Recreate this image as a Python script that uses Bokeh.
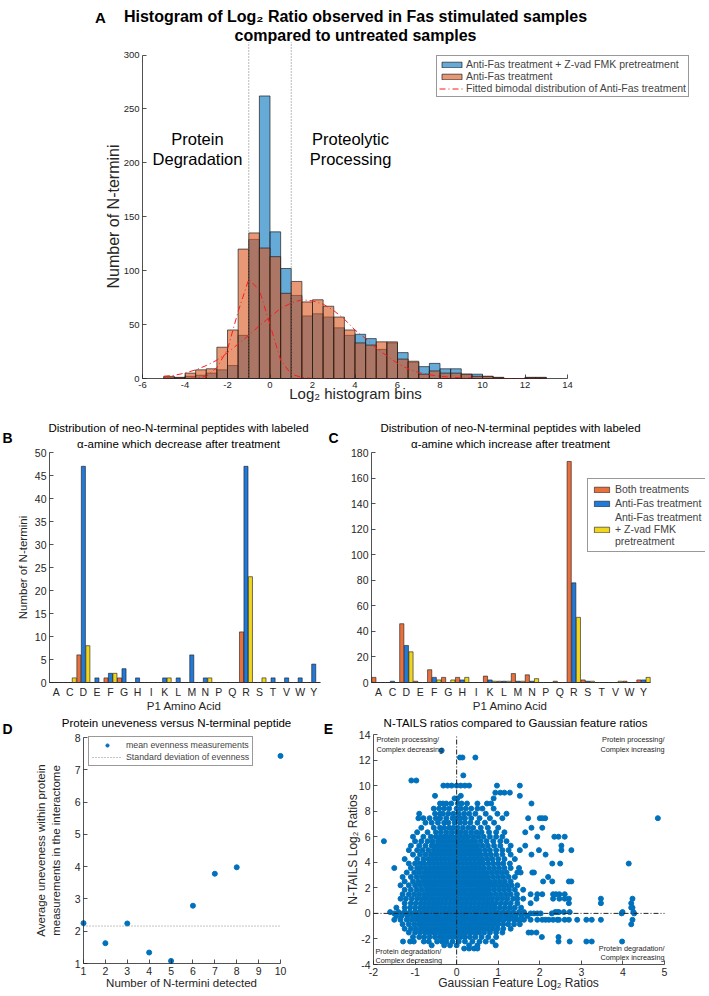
from bokeh.plotting import figure
from bokeh.layouts import column, row
from bokeh.models import Label, Legend, LegendItem, FixedTicker, Range1d
from bokeh.embed import file_html
from bokeh.resources import INLINE

FONT = "Liberation Sans"
AX = "#262626"

# ---------------- Panel A data ----------------
bin_left = [-5.0, -4.5, -4.0, -3.5, -3.0, -2.5, -2.0, -1.5, -1.0, -0.5, 0.0, 0.5, 1.0, 1.5, 2.0, 2.5, 3.0, 3.5,
            4.0, 4.5, 5.0, 5.5, 6.0, 6.5, 7.0, 7.5, 8.0, 8.5, 9.0, 9.5, 10.0, 10.5, 11.0, 11.5, 12.0, 12.5]
bin_width = 0.5
zvad_counts = [1, 1, 2, 3, 5, 8, 12, 40, 129, 262, 136, 102, 77, 58, 60, 57, 47, 40,
               41, 37, 27, 33, 24, 15, 11, 14, 9, 9, 4, 4, 2, 1, 0, 0, 1, 1]
fas_counts = [2, 1, 5, 8, 9, 29, 45, 120, 135, 121, 113, 79, 90, 71, 73, 67, 57, 45,
              33, 31, 34, 34, 18, 16, 4, 7, 5, 5, 4, 2, 2, 1, 0, 0, 1, 1]
fit_x = [-5.0, -4.5, -4.0, -3.5, -3.0, -2.5, -2.0, -1.5, -1.0, -0.5, 0.0, 0.5, 1.0, 1.5, 2.0, 2.5, 3.0, 3.5, 4.0,
         4.5, 5.0, 5.5, 6.0, 6.5, 7.0, 7.5, 8.0, 8.5, 9.0, 9.5, 10.0, 10.5, 11.0, 11.5, 12.0, 12.5, 13.0]
fit_narrow = [0, 0, 0, 0.5, 2, 10, 27, 62, 92, 82, 50, 17, 4, 1, 0, 0, 0, 0, 0,
              0, 0, 0, 0, 0, 0, 0, 0, 0, 0, 0, 0, 0, 0, 0, 0, 0, 0]
fit_broad = [2, 3, 5, 8, 12, 17, 24, 32, 40, 49, 57, 65, 70, 73, 72, 69, 63, 55, 45,
             37, 28, 21, 14, 9, 5.5, 3.5, 2, 1.2, 0.6, 0.3, 0.1, 0, 0, 0, 0, 0, 0]
thresholds = [-1, 1]

# ---------------- Panels B / C data ----------------
amino = ["A", "C", "D", "E", "F", "G", "H", "I", "K", "L", "M", "N", "P", "Q", "R", "S", "T", "V", "W", "Y"]
dec_both = [0, 0, 6, 0, 1, 1, 0, 0, 0, 0, 0, 0, 0, 0, 11, 0, 0, 0, 0, 0]
dec_fas = [0, 0, 47, 1, 2, 3, 1, 0, 1, 1, 6, 1, 0, 0, 47, 0, 1, 1, 1, 4]
dec_zvad = [0, 1, 8, 0, 2, 0, 0, 0, 1, 0, 0, 1, 0, 0, 23, 1, 0, 0, 0, 0]
inc_both = [4, 0, 46, 1, 10, 4, 4, 0, 5, 1, 7, 6, 0, 1, 173, 2, 0, 0, 1, 2]
inc_fas = [0, 1, 29, 0, 4, 0, 2, 0, 2, 1, 1, 1, 0, 0, 78, 1, 0, 0, 0, 2]
inc_zvad = [0, 0, 24, 0, 2, 2, 4, 0, 1, 1, 1, 3, 0, 0, 51, 1, 0, 1, 0, 4]

# ---------------- Panel D data ----------------
d_n = [1, 2, 3, 4, 5, 6, 7, 8, 10]
d_mean = [2.25, 1.63, 2.24, 1.34, 1.08, 2.79, 3.78, 3.98, 7.43]
d_sd = 2.16

# ---------------- Panel E data (read row by row: y, x values) ----------------
e_rows = [
    (12.75, "-0.36"),
    (12.2, "0.08 0.14 0.45"),
    (10.8, "0.16"),
    (10.4, "-1.09 -0.97"),
    (10.0, "-0.32 -0.22 -0.12 0.0 0.1 0.2 0.3 0.97 1.52"),
    (9.45, "0.93 1.05 1.15 1.28"),
    (9.2, "-0.52 0.1 1.52"),
    (9.0, "-0.05 0.02 0.89"),
    (8.6, "-0.4 -0.33 -0.25 -0.13 0.03 0.12 0.25 0.5 0.73 0.83 1.8"),
    (8.2, "-0.55 -0.42 -0.3 -0.18 0.0 0.1 0.22 0.35 0.5 0.62 0.89"),
    (7.8, "-0.9 -0.52 -0.4 -0.33 -0.2 -0.08 0.05 0.18 0.3 0.45 0.7 0.98 1.2"),
    (7.45, "-0.92 -0.8 -0.65 -0.5 -0.4 -0.25 -0.1 0.0 0.1 0.2 0.35 0.55 0.8 1.1 1.72 2.0 2.06 2.13 4.84"),
    (7.1, "-0.75 -0.6 -0.45 -0.3 -0.2 -0.05 0.08 0.2 0.33 0.5 0.68 0.9"),
    (6.7, "-0.85 -0.55 -0.4 -0.3 -0.18 -0.08 0.02 0.15 0.28 0.4 0.58 0.75 1.0 1.8 2.06"),
    (6.35, "-0.95 -0.7 -0.5 -0.38 -0.25 -0.12 0.0 0.1 0.22 0.35 0.48 0.6 0.78 0.95 1.15 1.65"),
    (6.0, "-1.05 -0.8 -0.62 -0.5 -0.4 -0.3 -0.2 -0.1 0.0 0.08 0.18 0.28 0.4 0.52 0.65 0.8 0.95 1.1 1.94 2.35 2.45 2.6"),
    (5.65, "-1.75 -1.0 -0.85 -0.7 -0.58 -0.45 -0.35 -0.25 -0.15 -0.05 0.05 0.15 0.25 0.35 0.45 0.58 0.72 0.88 1.05 1.2"),
    (5.3, "-1.1 -0.9 -0.75 -0.6 -0.5 -0.4 -0.3 -0.2 -0.1 0.0 0.1 0.2 0.3 0.4 0.5 0.62 0.75 0.9 1.05 1.3 1.65 2.52"),
    (4.95, "-1.15 -0.95 -0.82 -0.68 -0.55 -0.45 -0.35 -0.25 -0.15 -0.05 0.05 0.15 0.25 0.35 0.45 0.55 0.68 0.8 0.95 1.1 1.25 1.52 1.98 2.52 2.76"),
    (4.6, "-1.05 -0.88 -0.75 -0.62 -0.52 -0.42 -0.32 -0.22 -0.12 -0.02 0.08 0.18 0.28 0.38 0.48 0.58 0.7 0.82 0.95 1.1 1.3 1.8 2.14"),
    (4.25, "-1.25 -0.95 -0.8 -0.68 -0.58 -0.48 -0.38 -0.28 -0.18 -0.08 0.02 0.12 0.22 0.32 0.42 0.52 0.62 0.74 0.86 1.0 1.15 1.4"),
    (3.9, "-1.15 -1.0 -0.88 -0.78 -0.66 -0.56 -0.46 -0.36 -0.26 -0.16 -0.06 0.04 0.14 0.24 0.34 0.44 0.54 0.64 0.76 0.88 1.0 1.12 1.28 2.3 2.49 4.14"),
    (3.55, "-1.5 -1.1 -0.95 -0.85 -0.74 -0.64 -0.54 -0.44 -0.34 -0.24 -0.14 -0.04 0.06 0.16 0.26 0.36 0.46 0.56 0.66 0.78 0.9 1.02 1.15 1.3 1.5"),
    (3.2, "-1.2 -1.02 -0.9 -0.78 -0.68 -0.58 -0.48 -0.38 -0.28 -0.18 -0.08 0.02 0.12 0.22 0.32 0.42 0.52 0.62 0.72 0.84 0.96 1.08 1.2 1.46 1.54 1.82 1.86"),
    (2.85, "-1.3 -1.1 -0.96 -0.84 -0.74 -0.64 -0.54 -0.44 -0.34 -0.24 -0.14 -0.04 0.06 0.16 0.26 0.36 0.46 0.56 0.66 0.76 0.88 1.0 1.12 1.25 1.4 2.2"),
    (2.5, "-1.25 -1.05 -0.92 -0.8 -0.7 -0.6 -0.5 -0.4 -0.3 -0.2 -0.1 0.0 0.1 0.2 0.3 0.4 0.5 0.6 0.7 0.8 0.92 1.04 1.16 1.3 2.08 2.3 2.7 2.76"),
    (2.2, "-1.35 -1.15 -1.0 -0.88 -0.76 -0.66 -0.56 -0.46 -0.36 -0.26 -0.16 -0.06 0.04 0.14 0.24 0.34 0.44 0.54 0.64 0.74 0.84 0.96 1.08 1.2 1.32 1.46"),
    (1.85, "-1.25 -1.1 -0.96 -0.84 -0.72 -0.62 -0.52 -0.42 -0.32 -0.22 -0.12 -0.02 0.08 0.18 0.28 0.38 0.48 0.58 0.68 0.78 0.9 1.02 1.14 1.26 1.4 1.6"),
    (1.5, "-1.3 -1.15 -1.02 -0.9 -0.78 -0.68 -0.58 -0.48 -0.38 -0.28 -0.18 -0.08 0.02 0.12 0.22 0.32 0.42 0.52 0.62 0.72 0.82 0.94 1.06 1.18 1.3 1.45 1.78 1.94 2.06 2.32 2.39 2.47 2.6"),
    (1.15, "-1.35 -1.22 -1.08 -0.95 -0.84 -0.74 -0.64 -0.54 -0.44 -0.34 -0.24 -0.14 -0.04 0.06 0.16 0.26 0.36 0.46 0.56 0.66 0.76 0.86 0.98 1.1 1.22 1.36 1.46 1.6 1.92 2.32 2.47 2.6 2.7 3.47 4.23"),
    (0.8, "-1.25 -1.1 -0.98 -0.86 -0.76 -0.66 -0.56 -0.46 -0.36 -0.26 -0.16 -0.06 0.04 0.14 0.24 0.34 0.44 0.54 0.64 0.74 0.84 0.94 1.06 1.18 1.3 1.46 1.78 2.7 3.47 4.2"),
    (0.45, "-1.45 -1.25 -1.12 -1.0 -0.88 -0.78 -0.68 -0.58 -0.48 -0.38 -0.28 -0.18 -0.08 0.02 0.12 0.22 0.32 0.42 0.52 0.62 0.72 0.82 0.92 1.04 1.16 1.28 1.4 1.55 4.2 4.23"),
    (0.1, "-1.6 -1.4 -1.25 -1.12 -1.0 -0.9 -0.8 -0.7 -0.6 -0.5 -0.4 -0.3 -0.2 -0.1 0.0 0.1 0.2 0.3 0.4 0.5 0.6 0.7 0.8 0.9 1.0 1.12 1.24 1.36 1.5 1.62 2.37 2.42 2.46 2.58 2.72 3.99 4.25"),
    (0.0, "-1.5 -1.3 -1.15 1.54 1.62 1.78 1.86 1.94 2.02 2.29 3.97 4.27"),
    (-0.2, "-1.45 -1.32 -1.18 -1.05 -0.94 -0.84 -0.74 -0.64 -0.54 -0.44 -0.34 -0.24 -0.14 -0.04 0.06 0.16 0.26 0.36 0.46 0.56 0.66 0.76 0.86 0.96 1.06 1.18 1.3 1.42 1.56 1.7"),
    (-0.5, "-1.5 -1.35 -1.2 -1.08 -0.96 -0.86 -0.76 -0.66 -0.56 -0.46 -0.36 -0.26 -0.16 -0.06 0.04 0.14 0.24 0.34 0.44 0.54 0.64 0.74 0.84 0.94 1.04 1.14 1.26 1.38 1.46 1.54 1.62 1.78 1.94 2.06 2.14 2.22 2.32 2.42 2.46 2.6 2.7 2.9 3.12 3.25 3.47 4.23"),
    (-0.85, "-1.3 -1.15 -1.02 -0.9 -0.8 -0.7 -0.6 -0.5 -0.4 -0.3 -0.2 -0.1 0.0 0.1 0.2 0.3 0.4 0.5 0.6 0.7 0.8 0.9 1.0 1.12 1.24 1.38 1.52 4.2"),
    (-1.2, "-1.25 -1.1 -0.98 -0.86 -0.76 -0.66 -0.56 -0.46 -0.36 -0.26 -0.16 -0.06 0.04 0.14 0.24 0.34 0.44 0.54 0.64 0.74 0.86 0.98 1.12 1.3"),
    (-1.5, "-1.15 -1.0 -0.88 -0.76 -0.66 -0.56 -0.46 -0.36 -0.26 -0.16 -0.06 0.04 0.14 0.24 0.34 0.44 0.54 0.66 0.8 0.95 1.1 1.73 1.8 1.92"),
    (-1.85, "-1.05 -0.9 -0.78 -0.65 -0.52 -0.4 -0.3 -0.2 -0.1 0.0 0.1 0.2 0.32 0.45 0.6 0.76 0.95 2.05 2.45"),
    (-2.2, "-1.29 -1.12 -1.03 -0.79 -0.67 -0.47 -0.35 -0.25 -0.1 0.05 0.2 0.38 0.55 0.7 0.86 2.45 2.72 3.12 3.25 3.98"),
    (-2.5, "-0.6 -0.3 -0.16 0.0 0.3 0.5 0.94"),
    (-2.75, "0.18 0.3 0.42 0.5"),
]
e_x, e_y = [], []
for yy, xs in e_rows:
    for v in xs.split():
        e_x.append(float(v))
        e_y.append(yy)


class Map:
    """Linear map from page pixels to data values, given two reference points."""
    def __init__(self, pa, va, pb, vb):
        self.pa, self.va = pa, va
        self.s = (vb - va) / (pb - pa)

    def __call__(self, p):
        return self.va + (p - self.pa) * self.s


class Panel:
    def __init__(self, canvas, xmap, ymap):
        self.cx0, self.cy0, self.cx1, self.cy1 = canvas
        self.xm, self.ym = xmap, ymap
        w = self.cx1 - self.cx0
        h = self.cy1 - self.cy0
        self.p = figure(width=w, height=h,
                        x_range=Range1d(xmap(self.cx0), xmap(self.cx1)),
                        y_range=Range1d(ymap(self.cy1), ymap(self.cy0)),
                        output_backend="svg", toolbar_location=None,
                        min_border_left=0, min_border_right=0, min_border_top=0, min_border_bottom=0)
        p = self.p
        p.outline_line_color = None
        p.grid.visible = False
        p.title.visible = False
        p.background_fill_color = "white"
        p.border_fill_color = "white"

    def axes(self, xb, yb, fs):
        p = self.p
        p.xaxis.fixed_location = yb[0]
        p.yaxis.fixed_location = xb[0]
        p.xaxis.bounds = xb
        p.yaxis.bounds = yb
        for ax in p.axis:
            ax.major_tick_in = 4
            ax.major_tick_out = 0
            ax.minor_tick_line_color = None
            ax.axis_line_color = AX
            ax.major_tick_line_color = AX
            ax.axis_line_width = 0.8
            ax.major_tick_line_width = 0.8
            ax.major_label_text_font = FONT
            ax.major_label_text_font_size = fs
            ax.major_label_text_color = AX
            ax.major_label_standoff = 3

    def lab(self, px, py, text, size, bold=False, angle=0, align="center", color="black"):
        self.p.add_layout(Label(x=self.xm(px), y=self.ym(py), text=text, text_font=FONT,
                                text_font_size=f"{size}px", text_font_style="bold" if bold else "normal",
                                text_align=align, text_baseline="middle", angle=angle, angle_units="deg",
                                text_color=color))

    def loc(self, left_px, bottom_px):
        return (left_px - self.cx0, self.cy1 - bottom_px)


def hyphen(ticks):
    return {t: str(t) for t in ticks if t < 0}


# ======================= Panel A =======================
A = Panel((0, 0, 705, 418), Map(142, -6, 567, 14), Map(378, 0, 54.5, 300))
pA = A.p
A.axes((-6, 14), (0, 300), "9.5px")
ticksAx = [-6, -4, -2, 0, 2, 4, 6, 8, 10, 12, 14]
pA.xaxis.ticker = FixedTicker(ticks=ticksAx)
pA.xaxis.major_label_overrides = hyphen(ticksAx)
pA.yaxis.ticker = FixedTicker(ticks=[0, 50, 100, 150, 200, 250, 300])

rights = [b + bin_width for b in bin_left]
rb = pA.quad(left=bin_left, right=rights, bottom=0, top=zvad_counts, fill_color="#0072BD", fill_alpha=0.6,
             line_color="#1a1a1a", line_alpha=0.85, line_width=0.8)
ro = pA.quad(left=bin_left, right=rights, bottom=0, top=fas_counts, fill_color="#D95319", fill_alpha=0.6,
             line_color="#1a1a1a", line_alpha=0.85, line_width=0.8)
rf = pA.line(fit_x, fit_narrow, line_color="#FF1A1A", line_dash="6 3 1 3", line_width=1)
pA.line(fit_x, fit_broad, line_color="#FF1A1A", line_dash="6 3 1 3", line_width=1)
pA.segment(x0=thresholds, y0=[0, 0], x1=thresholds, y1=[312, 312], line_color="#777777",
           line_dash="1 2", line_width=1)

legA = Legend(items=[LegendItem(label="Anti-Fas treatment + Z-vad FMK pretreatment", renderers=[rb]),
                     LegendItem(label="Anti-Fas treatment", renderers=[ro]),
                     LegendItem(label="Fitted bimodal distribution of Anti-Fas treatment", renderers=[rf])],
              location=A.loc(436, 97), label_text_font=FONT, label_text_font_size="10.5px",
              glyph_width=25, glyph_height=7, label_height=9, spacing=0, padding=2, margin=0,
              label_standoff=2, border_line_color="#333333", border_line_width=0.8,
              background_fill_alpha=1.0)
pA.add_layout(legA)

A.lab(100, 17, "A", 15, bold=True)
A.lab(355, 16, "Histogram of Log\u2082 Ratio observed in Fas stimulated samples", 16, bold=True)
A.lab(355, 35, "compared to untreated samples", 16, bold=True)
A.lab(197, 138, "Protein", 16.5)
A.lab(197, 158, "Degradation", 16.5)
A.lab(350, 138, "Proteolytic", 16.5)
A.lab(350, 158, "Processing", 16.5)
A.lab(113, 216, "Number of N-termini", 16, angle=90, color=AX)
A.lab(355, 393, "Log\u2082 histogram bins", 15, color=AX)

# ======================= Panels B and C =======================
ORANGE = "#E8703C"
BLUE = "#2179D8"
YELLOW = "#EFD51E"
EDGE = "#1a1a1a"
pos = list(range(1, 21))
off = 0.33
bw = 0.3


def bars(p, vals_o, vals_b, vals_y):
    r1 = p.vbar(x=[q - off for q in pos], top=vals_o, width=bw, fill_color=ORANGE, line_color=EDGE, line_width=0.6)
    r2 = p.vbar(x=pos, top=vals_b, width=bw, fill_color=BLUE, line_color=EDGE, line_width=0.6)
    r3 = p.vbar(x=[q + off for q in pos], top=vals_y, width=bw, fill_color=YELLOW, line_color=EDGE, line_width=0.6)
    p.xaxis.ticker = FixedTicker(ticks=pos)
    p.xaxis.major_label_overrides = {q: a for q, a in zip(pos, amino)}
    p.xaxis.major_tick_in = 0
    return r1, r2, r3


B = Panel((0, 418, 340, 712), Map(49, 0.5, 320, 20.5), Map(682, 0, 452, 50))
pB = B.p
B.axes((0.5, 20.5), (0, 50), "10.5px")
bars(pB, dec_both, dec_fas, dec_zvad)
pB.yaxis.ticker = FixedTicker(ticks=[0, 5, 10, 15, 20, 25, 30, 35, 40, 45, 50])
B.lab(7, 437, "B", 14, bold=True)
B.lab(333, 437, "C", 14, bold=True)
B.lab(178, 427, "Distribution of neo-N-terminal peptides with labeled", 11.5)
B.lab(178, 443, "\u03b1-amine which decrease after treatment", 11.5)
B.lab(22, 567, "Number of N-termini", 11.5, angle=90, color=AX)
B.lab(184, 705, "P1 Amino Acid", 11.5, color=AX)

C = Panel((340, 418, 705, 712), Map(371, 0.5, 650, 20.5), Map(682, 0, 452, 180))
pC = C.p
C.axes((0.5, 20.5), (0, 180), "10.5px")
c1, c2, c3 = bars(pC, inc_both, inc_fas, inc_zvad)
pC.yaxis.ticker = FixedTicker(ticks=[0, 20, 40, 60, 80, 100, 120, 140, 160, 180])
legC = Legend(items=[LegendItem(label="Both treatments", renderers=[c1]),
                     LegendItem(label="Anti-Fas treatment", renderers=[c2]),
                     LegendItem(label="Anti-Fas treatment\n+ Z-vad FMK\npretreatment", renderers=[c3])],
              location=C.loc(587, 552), label_text_font=FONT, label_text_font_size="10.5px",
              glyph_width=19, glyph_height=7, label_height=10, spacing=2, padding=4, margin=0,
              label_standoff=4, border_line_color="#333333", border_line_width=0.8)
pC.add_layout(legC)
C.lab(510, 427, "Distribution of neo-N-terminal peptides with labeled", 11.5)
C.lab(510, 443, "\u03b1-amine which increase after treatment", 11.5)
C.lab(510, 705, "P1 Amino Acid", 11.5, color=AX)

# ======================= Panel D =======================
D = Panel((0, 712, 340, 990), Map(83, 1, 280, 10), Map(963, 1, 737, 8))
pD = D.p
D.axes((1, 10), (1, 8), "10.5px")
pD.xaxis.ticker = FixedTicker(ticks=list(range(1, 11)))
pD.yaxis.ticker = FixedTicker(ticks=list(range(1, 9)))
rd = pD.scatter(d_n, d_mean, size=5, fill_color="#0072BD", line_color="#0072BD")
rsd = pD.line([1, 10], [d_sd, d_sd], line_color="#888888", line_dash="1 2", line_width=1)
legD = Legend(items=[LegendItem(label="mean evenness measurements", renderers=[rd]),
                     LegendItem(label="Standard deviation of evenness", renderers=[rsd])],
              location=D.loc(88, 766), label_text_font=FONT, label_text_font_size="8.8px",
              glyph_width=30, glyph_height=8, label_height=9, spacing=2, padding=3, margin=0,
              label_standoff=4, border_line_color="#333333", border_line_width=0.8)
pD.add_layout(legD)
D.lab(7, 728, "D", 14, bold=True)
D.lab(328, 728, "E", 14, bold=True)
D.lab(176, 722, "Protein uneveness versus N-terminal peptide", 11.5)
D.lab(40, 850, "Average uneveness within protein", 11.5, angle=90, color=AX)
D.lab(55, 850, "measurements in the interactome", 11.5, angle=90, color=AX)
D.lab(181, 982, "Number of N-termini detected", 11.5, color=AX)

# ======================= Panel E =======================
E = Panel((340, 712, 705, 990), Map(373, -2, 664, 5), Map(964, -4, 734, 14))
pE = E.p
E.axes((-2, 5), (-4, 14), "10.5px")
ticksEx = [-2, -1, 0, 1, 2, 3, 4, 5]
ticksEy = [-4, -2, 0, 2, 4, 6, 8, 10, 12, 14]
pE.xaxis.ticker = FixedTicker(ticks=ticksEx)
pE.yaxis.ticker = FixedTicker(ticks=ticksEy)
pE.xaxis.major_label_overrides = hyphen(ticksEx)
pE.yaxis.major_label_overrides = hyphen(ticksEy)
pE.scatter(e_x, e_y, size=5, fill_color="#0072BD", line_color="#0072BD")
pE.line([-2, 5], [0, 0], line_color="#222222", line_dash="5 2 1 2", line_width=1)
pE.line([0, 0], [-4, 14], line_color="#222222", line_dash="5 2 1 2", line_width=1)
E.lab(515, 722, "N-TAILS ratios compared to Gaussian feature ratios", 11.5)
E.lab(352, 849, "N-TAILS Log\u2082 Ratios", 12, angle=90, color=AX)
E.lab(518, 982, "Gaussian Feature Log\u2082 Ratios", 12, color=AX)
E.lab(376, 739, "Protein processing/", 7.3, align="left", color=AX)
E.lab(376, 749, "Complex decreasing", 7.3, align="left", color=AX)
E.lab(664, 739, "Protein processing/", 7.3, align="right", color=AX)
E.lab(664, 749, "Complex increasing", 7.3, align="right", color=AX)
E.lab(375, 951, "Protein degradation/", 7.3, align="left", color=AX)
E.lab(375, 960, "Complex decreasing", 7.3, align="left", color=AX)
E.lab(664, 948, "Protein degradation/", 7.3, align="right", color=AX)
E.lab(664, 957, "Complex increasing", 7.3, align="right", color=AX)

layout = column(pA, row(pB, pC), row(pD, pE))
open("out.html", "w").write(file_html(layout, INLINE))
